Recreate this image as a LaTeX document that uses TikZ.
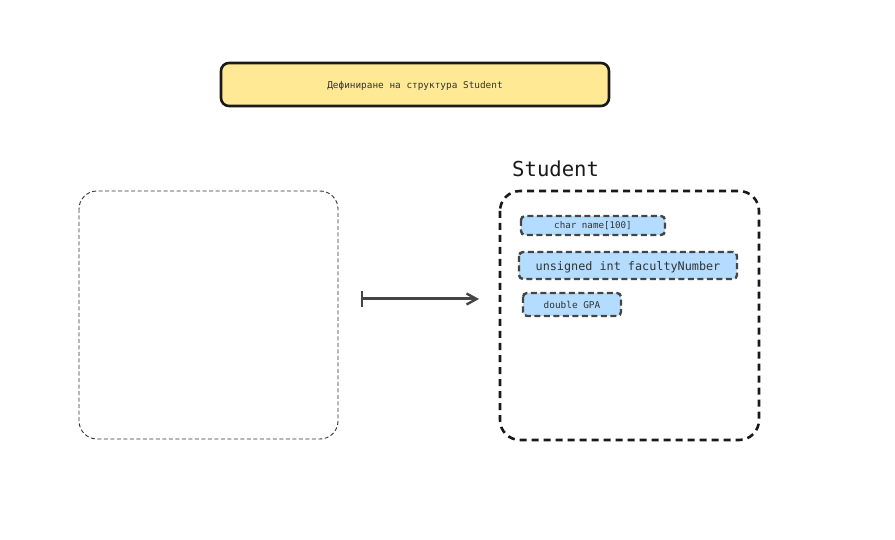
\documentclass[tikz,border=0pt]{standalone}
\usepackage{fontspec}
\setmonofont{DejaVu Sans Mono}
\usetikzlibrary{arrows.meta}
\definecolor{titlefill}{HTML}{FFE994}
\definecolor{fieldfill}{HTML}{B3DCFF}
\definecolor{darkline}{HTML}{454545}
\begin{document}
\begin{tikzpicture}[x=1pt,y=-1pt,
  titlebox/.style={draw=black!90, line width=2.6pt, fill=titlefill, rounded corners=8pt},
  outerbox/.style={draw=black!90, line width=2.6pt, dash pattern=on 7pt off 5pt, rounded corners=20pt},
  emptybox/.style={draw=black!80, line width=0.9pt, dash pattern=on 4pt off 2.5pt, rounded corners=18pt},
  fieldbox/.style={draw=darkline, line width=2.4pt, dash pattern=on 6pt off 3.5pt, fill=fieldfill, rounded corners=4pt},
  lbl/.style={font=\ttfamily, text=black!80, inner sep=0pt}]
\useasboundingbox (0,0) rectangle (895,540);
% title
\draw[titlebox] (221,63) rectangle (609,106);
\node[lbl, font=\ttfamily\fontsize{9.4}{10}\selectfont] (title) at (415,86) {Дефиниране на структура Student};
% left empty box
\draw[emptybox] (79,191) rectangle (338,439);
% right struct box
\node[lbl, font=\ttfamily\fontsize{20.6}{22}\selectfont, text=black!90, anchor=west] (sname) at (512,169) {Student};
\draw[outerbox] (500,191) rectangle (759,440);
% fields
\draw[fieldbox] (521,216) rectangle (665,235);
\node[lbl, font=\ttfamily\fontsize{9.2}{10}\selectfont] (f1) at (593,226) {char name[100]};
\draw[fieldbox] (519,252) rectangle (737,279);
\node[lbl, font=\ttfamily\fontsize{11.8}{13}\selectfont] (f2) at (628,267) {unsigned int facultyNumber};
\draw[fieldbox] (523,293) rectangle (621,316);
\node[lbl, font=\ttfamily\fontsize{9.4}{10}\selectfont] (f3) at (572,305) {double GPA};
% arrow
\coordinate (a0) at (361,299);
\coordinate (a1) at (479,299);
\draw[draw=darkline, line width=3pt, {Bar[width=16pt,line width=1.8pt]}-{Straight Barb[length=10pt,width=11pt,line width=2.4pt]}] (a0) -- (a1);
\end{tikzpicture}
\end{document}
